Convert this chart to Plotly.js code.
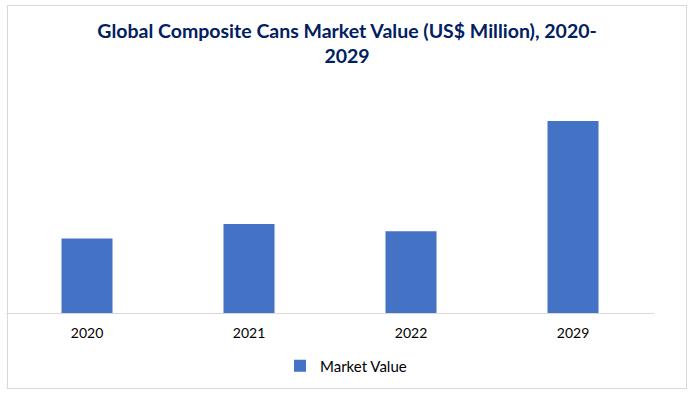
<!DOCTYPE html>
<html>
<head>
<meta charset="utf-8">
<script src="https://cdn.plot.ly/plotly-3.0.1.min.js"></script>
<style>
  html, body { margin: 0; padding: 0; background: #ffffff; }
  #wrap { position: relative; width: 690px; height: 395px; }
  #chart { width: 690px; height: 395px; }
  #frame { position: absolute; left: 7px; top: 5px; width: 678px; height: 382px; border: 1px solid #d9d9d9; pointer-events: none; }
</style>
</head>
<body>
<div id="wrap">
  <div id="chart"></div>
  <div id="frame"></div>
</div>
<script>
const categories = ["2020", "2021", "2022", "2029"];
const marketValue = [74.5, 89, 81.7, 192];
const seriesName = "Market Value";
const titleText = "Global Composite Cans Market Value (US$ Million), 2020-<br>2029";

const trace = {
  type: "bar",
  x: categories,
  y: marketValue,
  name: seriesName,
  marker: { color: "#4472C4" },
  showlegend: true,
  hoverinfo: "x+y"
};

const layout = {
  width: 690,
  height: 395,
  margin: { l: 6, r: 36, t: 80, b: 82 },
  paper_bgcolor: "#ffffff",
  plot_bgcolor: "#ffffff",
  font: { family: "Lato, 'Open Sans', sans-serif", color: "#000000" },
  title: {
    text: "<b>" + titleText + "</b>",
    font: { size: 19.5, color: "#002060", family: "Lato, sans-serif" },
    xref: "container", x: 0.503, xanchor: "center",
    yref: "container", y: 1 - 38 / 395, yanchor: "top"
  },
  bargap: 0.685,
  xaxis: {
    type: "category",
    showline: true,
    linecolor: "#d9d9d9",
    linewidth: 1,
    showgrid: false,
    ticks: "",
    ticklabelstandoff: 7,
    tickfont: { size: 14, color: "#000000" },
    fixedrange: true
  },
  yaxis: {
    range: [0, 233],
    visible: false,
    showgrid: false,
    zeroline: false,
    fixedrange: true
  },
  showlegend: true,
  legend: {
    orientation: "h",
    xref: "container", x: 346 / 690, xanchor: "center",
    yref: "container", y: 1 - 366 / 395, yanchor: "middle",
    font: { size: 15, color: "#000000" },
    itemwidth: 30
  }
};

Plotly.newPlot("chart", [trace], layout, { displayModeBar: false, staticPlot: true });
</script>
</body>
</html>
